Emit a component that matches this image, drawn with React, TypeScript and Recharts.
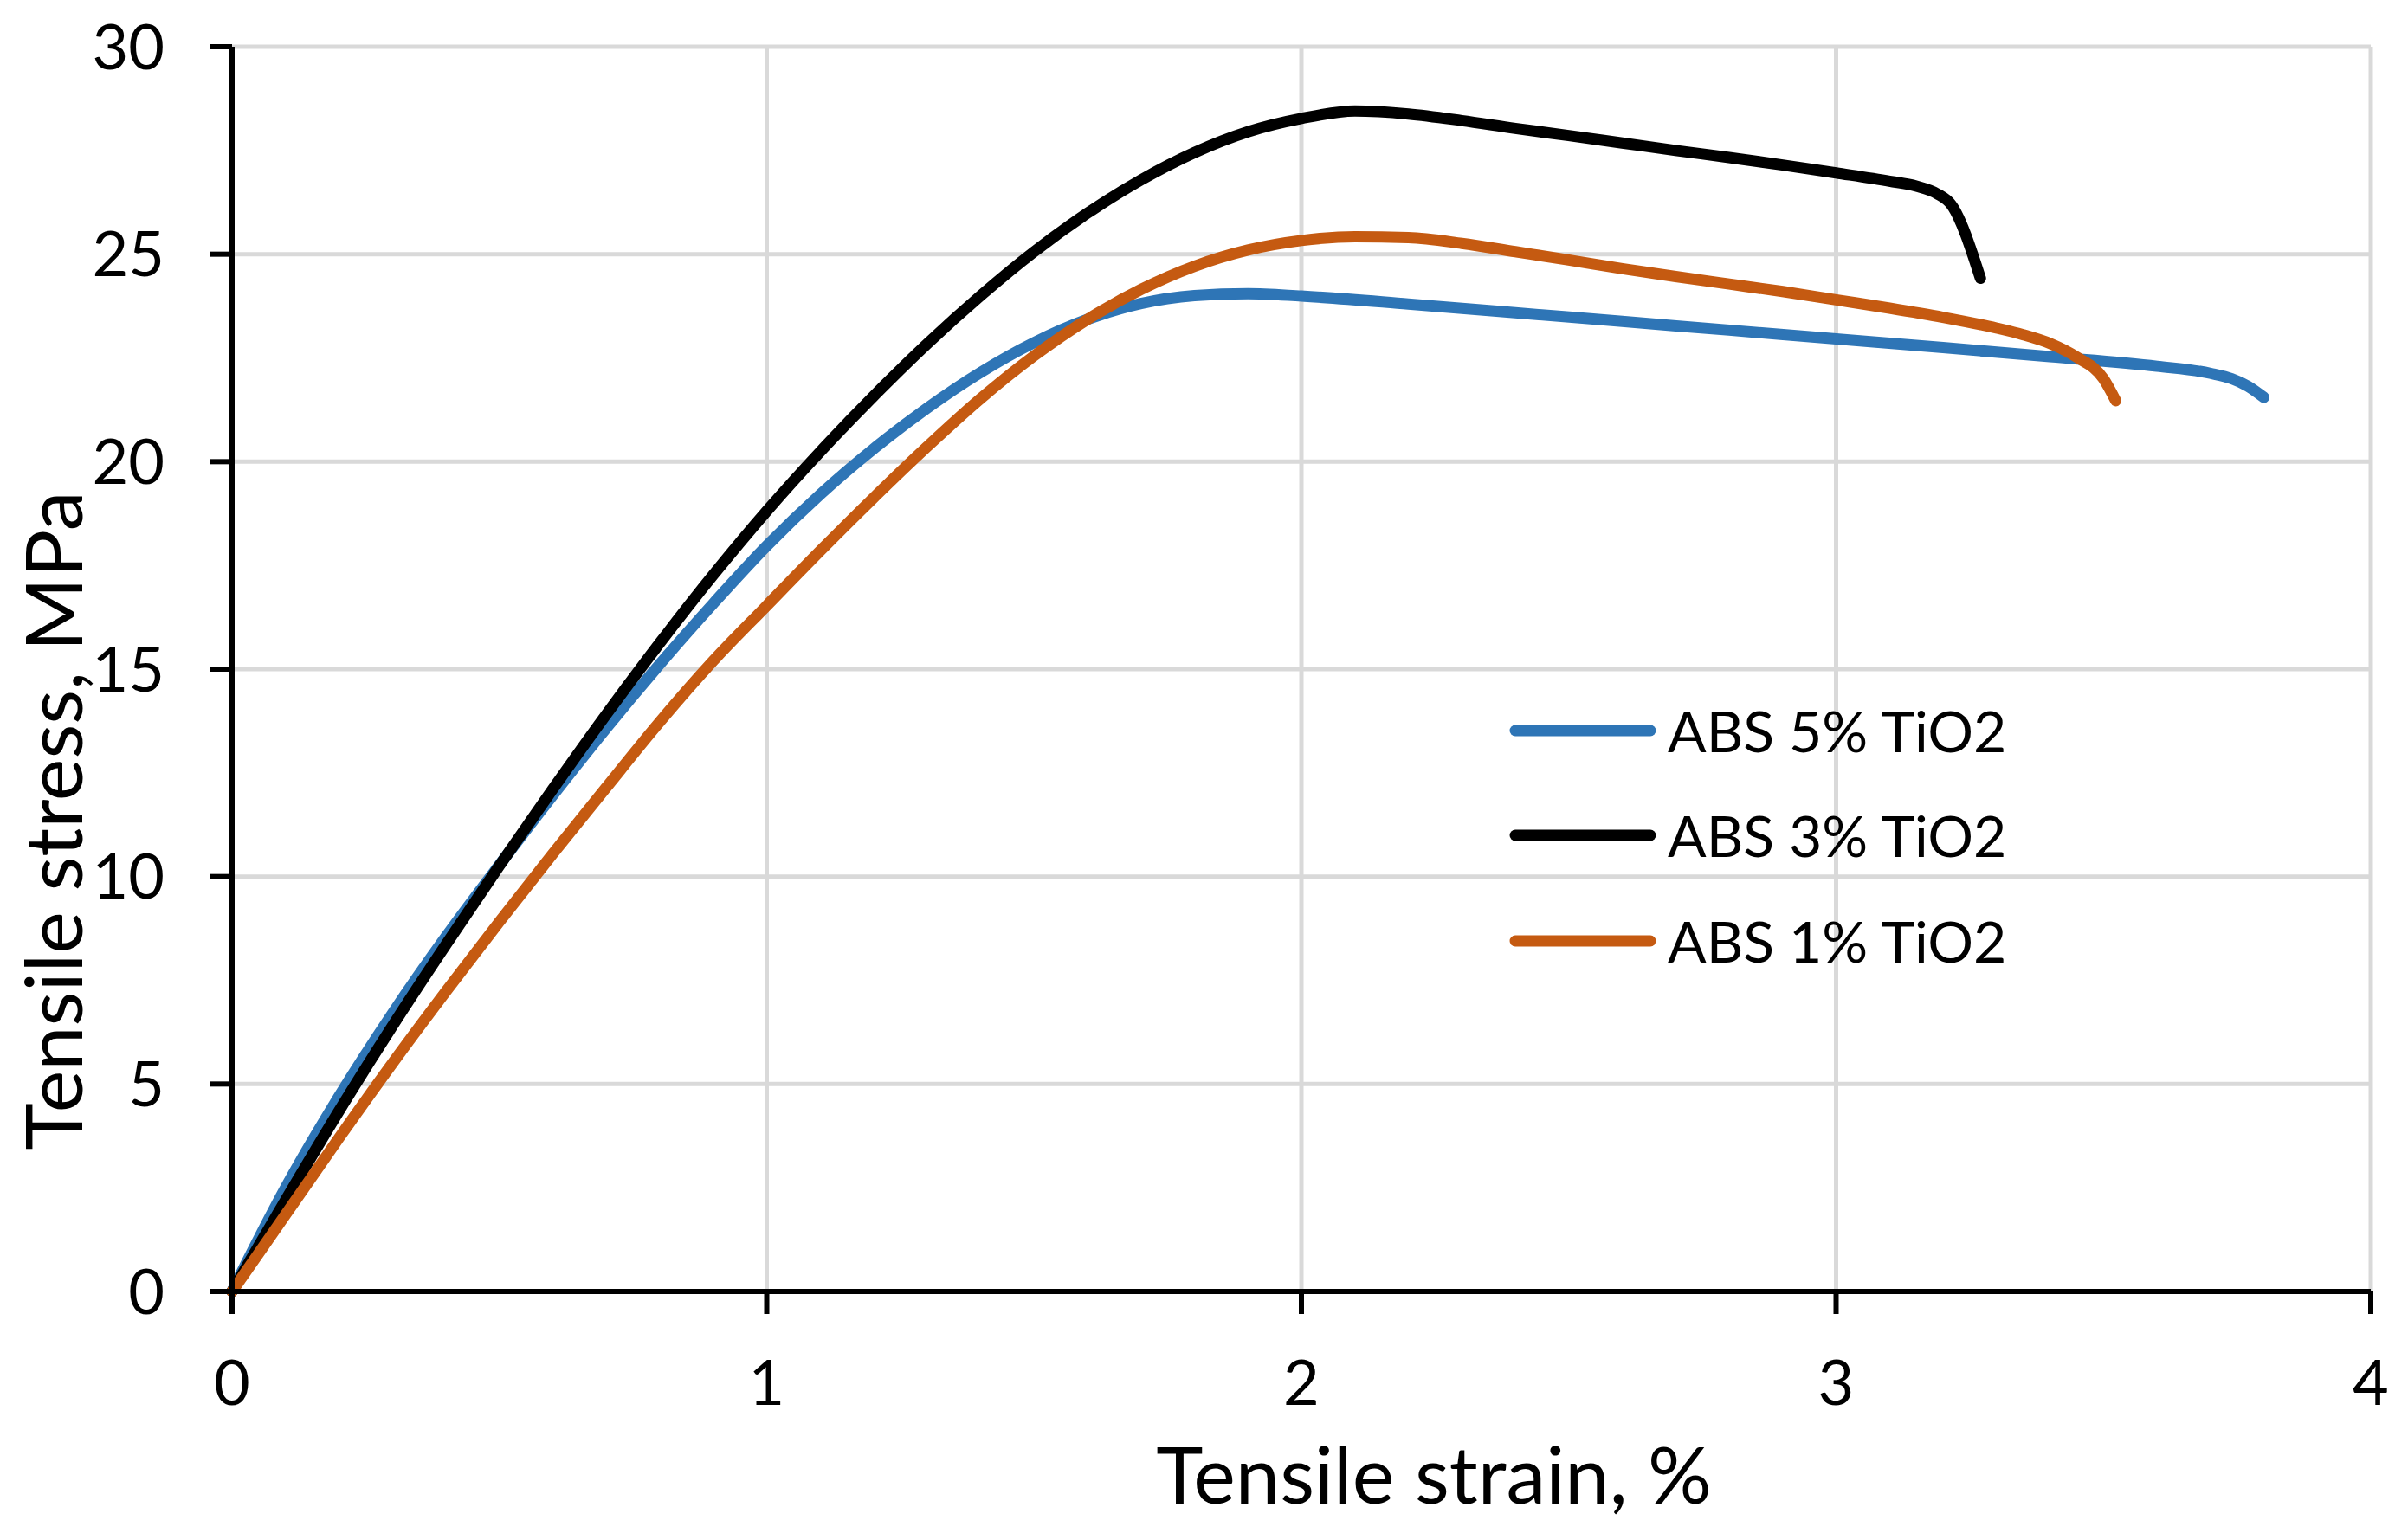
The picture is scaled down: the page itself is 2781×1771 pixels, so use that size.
import React from 'react';
import { LineChart, Line, XAxis, YAxis, CartesianGrid, Label } from 'recharts';

// values
const strain5 = [0, 0.1, 0.2, 0.3, 0.4, 0.5, 0.6, 0.7, 0.8, 0.9, 1.0, 1.1, 1.2, 1.3, 1.4, 1.5, 1.6, 1.7, 1.8, 1.9, 2.0, 2.2, 2.4, 2.6, 2.8, 3.0, 3.2, 3.4, 3.6, 3.7, 3.74, 3.77, 3.8];
const stress5 = [0, 2.5, 4.7, 6.7, 8.55, 10.28, 11.96, 13.58, 15.12, 16.58, 17.97, 19.21, 20.31, 21.29, 22.15, 22.87, 23.43, 23.81, 24.0, 24.05, 23.99, 23.8, 23.59, 23.38, 23.17, 22.96, 22.75, 22.53, 22.3, 22.13, 22.0, 21.82, 21.55];

const strain3 = [0, 0.1, 0.2, 0.3, 0.4, 0.5, 0.6, 0.7, 0.8, 0.9, 1.0, 1.1, 1.2, 1.3, 1.4, 1.5, 1.6, 1.7, 1.8, 1.9, 2.0, 2.1, 2.2, 2.3, 2.4, 2.5, 2.6, 2.7, 2.8, 2.9, 3.0, 3.1, 3.15, 3.19, 3.215, 3.27];
const stress3 = [0, 2.2, 4.35, 6.4, 8.36, 10.26, 12.11, 13.91, 15.63, 17.27, 18.81, 20.24, 21.58, 22.84, 24.0, 25.06, 25.99, 26.79, 27.45, 27.95, 28.27, 28.45, 28.38, 28.22, 28.03, 27.86, 27.68, 27.5, 27.33, 27.15, 26.96, 26.76, 26.64, 26.45, 26.2, 24.42];

const strain1 = [0, 0.1, 0.2, 0.3, 0.4, 0.5, 0.6, 0.7, 0.8, 0.9, 1.0, 1.1, 1.2, 1.3, 1.4, 1.5, 1.6, 1.7, 1.8, 1.9, 2.0, 2.1, 2.2, 2.3, 2.4, 2.5, 2.6, 2.7, 2.8, 2.9, 3.0, 3.1, 3.2, 3.3, 3.35, 3.4, 3.45, 3.5, 3.523];
const stress1 = [0, 1.85, 3.7, 5.5, 7.23, 8.91, 10.55, 12.15, 13.73, 15.2, 16.53, 17.85, 19.13, 20.36, 21.52, 22.55, 23.43, 24.15, 24.71, 25.1, 25.33, 25.42, 25.4, 25.26, 25.06, 24.86, 24.65, 24.46, 24.28, 24.1, 23.9, 23.7, 23.48, 23.22, 23.06, 22.85, 22.52, 22.0, 21.47];

const xTicks = [0, 1, 2, 3, 4];
const yTicks = [0, 5, 10, 15, 20, 25, 30];

const seriesNames = ['ABS 5% TiO2', 'ABS 3% TiO2', 'ABS 1% TiO2'];
const seriesColors = ['#2E75B6', '#000000', '#C55A11'];

const toPoints = (xs: number[], ys: number[]) => xs.map((x, i) => ({ x, y: ys[i] }));

const series = [
  { name: seriesNames[0], color: seriesColors[0], data: toPoints(strain5, stress5) },
  { name: seriesNames[1], color: seriesColors[1], data: toPoints(strain3, stress3) },
  { name: seriesNames[2], color: seriesColors[2], data: toPoints(strain1, stress1) },
];

const FONT = 'Lato, "Open Sans", sans-serif';

const LegendBox = () => (
  <div style={{ position: 'absolute', left: 1738, top: 783, fontFamily: FONT, fontSize: 66, color: '#000' }}>
    {series.map(s => (
      <div key={s.name} style={{ display: 'flex', alignItems: 'center', height: 121.5 }}>
        <svg width={180} height={24} style={{ marginRight: 8 }}>
          <line x1={12} y1={12} x2={168} y2={12} stroke={s.color} strokeWidth={13} strokeLinecap="round" />
        </svg>
        <span style={{ lineHeight: 1 }}>{s.name}</span>
      </div>
    ))}
  </div>
);

export default function App() {
  return (
    <div style={{ position: 'absolute', left: 0, top: 0, width: 2781, height: 1771, background: '#fff' }}>
      <LineChart width={2781} height={1771} margin={{ top: 54, right: 43, left: 0, bottom: 0 }}>
        <CartesianGrid stroke="#d9d9d9" strokeWidth={5} horizontalValues={yTicks} verticalValues={xTicks} />
        <XAxis
          type="number"
          dataKey="x"
          domain={[0, 4]}
          ticks={xTicks}
          height={279}
          axisLine={{ stroke: '#000', strokeWidth: 6 }}
          tickLine={{ stroke: '#000', strokeWidth: 6 }}
          tickSize={26}
          tickMargin={54}
          tick={{ fill: '#000', fontSize: 72, fontFamily: FONT }}
          allowDuplicatedCategory={false}
        >
          <Label
            content={() => (
              <text x={1656} y={1737} textAnchor="middle" fontSize={92} fontFamily={FONT} fill="#000">
                Tensile strain, %
              </text>
            )}
          />
        </XAxis>
        <YAxis
          type="number"
          dataKey="y"
          domain={[0, 30]}
          ticks={yTicks}
          width={268}
          axisLine={{ stroke: '#000', strokeWidth: 6 }}
          tickLine={{ stroke: '#000', strokeWidth: 6 }}
          tickSize={26}
          tickMargin={52}
          tick={{ fill: '#000', fontSize: 72, fontFamily: FONT }}
        >
          <Label
            content={() => (
              <text
                x={0}
                y={0}
                transform="translate(95 948) rotate(-90)"
                textAnchor="middle"
                fontSize={92}
                fontFamily={FONT}
                fill="#000"
              >
                Tensile stress, MPa
              </text>
            )}
          />
        </YAxis>
        {series.map(s => (
          <Line
            key={s.name}
            data={s.data}
            dataKey="y"
            name={s.name}
            type="monotone"
            stroke={s.color}
            strokeWidth={13}
            strokeLinecap="round"
            strokeLinejoin="round"
            dot={false}
            activeDot={false}
            isAnimationActive={false}
          />
        ))}
      </LineChart>
      <LegendBox />
    </div>
  );
}
